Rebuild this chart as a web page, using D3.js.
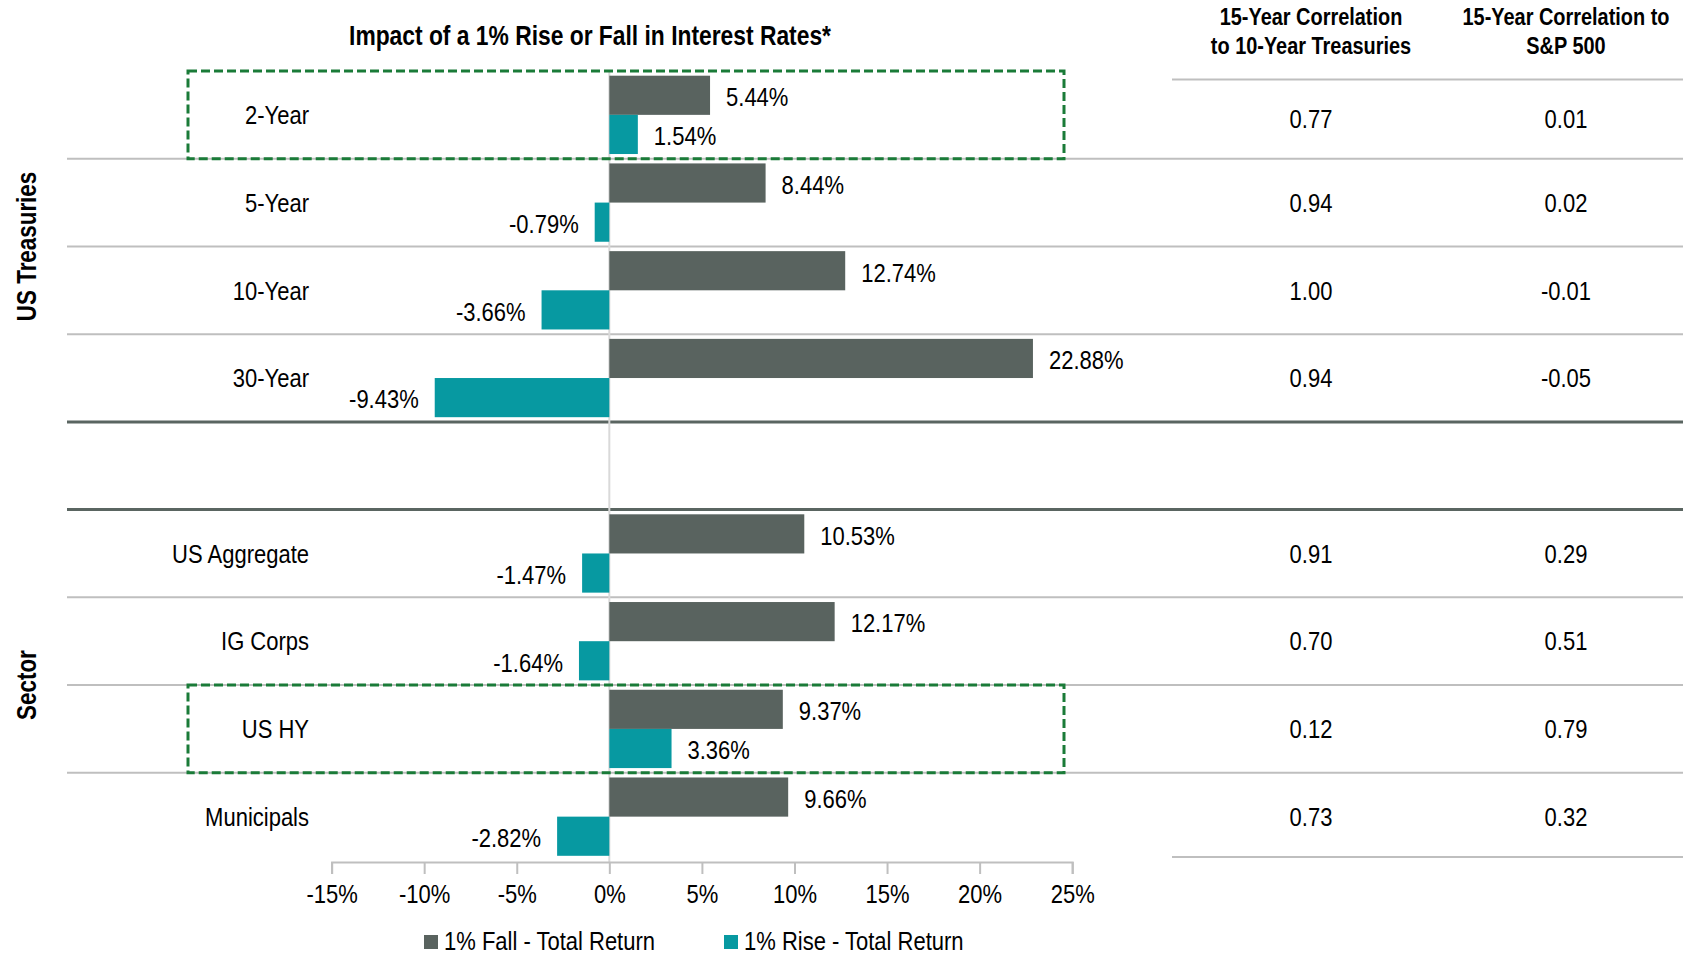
<!DOCTYPE html>
<html>
<head>
<meta charset="utf-8">
<script src="https://cdn.jsdelivr.net/npm/d3@7"></script>
<style>
  body { margin: 0; background: #fff; }
  svg { display: block; }
</style>
</head>
<body>
<div id="chart"></div>
<script>
// --- data ------------------------------------------------------------------
const treasuries = ["2-Year", "5-Year", "10-Year", "30-Year"];
const sectors = ["US Aggregate", "IG Corps", "US HY", "Municipals"];
const categories = [...treasuries, ...sectors];
const fallReturn = [5.44, 8.44, 12.74, 22.88, 10.53, 12.17, 9.37, 9.66];
const riseReturn = [1.54, -0.79, -3.66, -9.43, -1.47, -1.64, 3.36, -2.82];
const corrTreasury = ["0.77", "0.94", "1.00", "0.94", "0.91", "0.70", "0.12", "0.73"];
const corrSP500 = ["0.01", "0.02", "-0.01", "-0.05", "0.29", "0.51", "0.79", "0.32"];
const xTicks = [-15, -10, -5, 0, 5, 10, 15, 20, 25];
const highlighted = ["2-Year", "US HY"];
const seriesNames = ["1% Fall - Total Return", "1% Rise - Total Return"];

// --- layout ----------------------------------------------------------------
const W = 1683, H = 957;
// no Arial Narrow available: squeeze Liberation Sans (Arial metrics) horizontally
const FONT = "'Liberation Sans', Arial, sans-serif";
const NARROW = 0.83;
const FS = "26.5px";
const COL = { fall: "#59635f", rise: "#0799a1", grid: "#bfbfbf", dark: "#5a6561", box: "#1a7b38" };
const yTop = 71, yBottom = 860.5, axisY = 862, headerLineY = 79.5;
const lineLeft = 67, labelRight = 309, tableLeft = 1172;
const boxLeft = 188, boxRight = 1064;
const col1X = 1311, col2X = 1566;

// move x/y into a transform so the text can be squeezed around its anchor
function narrow(sel, extra = "") {
    sel.each(function () {
        const t = d3.select(this);
        const tx = +t.attr("x") || 0, ty = +t.attr("y") || 0;
        t.attr("x", null).attr("y", null)
            .attr("transform", `translate(${tx},${ty})${extra} scale(${NARROW},1)`);
    });
    return sel;
}

const svg = d3.select("#chart").append("svg")
    .attr("width", W).attr("height", H)
    .style("font-family", FONT);

// rows: treasuries, a blank spacer, then sectors
const rowKeys = [...treasuries, "__gap", ...sectors];
const y = d3.scaleBand().domain(rowKeys).range([yTop, yBottom]);
const ySub = d3.scaleBand().domain(["fall", "rise"])
    .range([0, y.bandwidth()]).paddingOuter(0.12);
const x = d3.scaleLinear().domain([-15, 25]).range([331.6, 1072.2]);

const rows = categories.map((c, i) => ({
    name: c, fall: fallReturn[i], rise: riseReturn[i],
    c1: corrTreasury[i], c2: corrSP500[i]
}));

// title + table headers
svg.append("text")
    .attr("x", 590).attr("y", 35).attr("dy", "0.35em")
    .attr("text-anchor", "middle")
    .style("font-size", "27.5px").style("font-weight", "bold")
    .text("Impact of a 1% Rise or Fall in Interest Rates*")
    .call(narrow);

const headers = [
    { x: col1X, lines: ["15-Year Correlation", "to 10-Year Treasuries"] },
    { x: col2X, lines: ["15-Year Correlation to", "S&P 500"] }
];
headers.forEach(h => {
    h.lines.forEach((ln, k) => {
        svg.append("text")
            .attr("x", h.x).attr("y", 17 + k * 29).attr("dy", "0.35em")
            .attr("text-anchor", "middle")
            .style("font-size", "24px").style("font-weight", "bold")
            .text(ln)
            .call(narrow);
    });
});

// separators
const grid = svg.append("g");
grid.append("line")
    .attr("x1", tableLeft).attr("x2", W)
    .attr("y1", headerLineY).attr("y2", headerLineY)
    .attr("stroke", COL.grid).attr("stroke-width", 2);
[...treasuries.slice(1), ...sectors.slice(1)].forEach(k => {
    grid.append("line")
        .attr("x1", lineLeft).attr("x2", W)
        .attr("y1", y(k)).attr("y2", y(k))
        .attr("stroke", COL.grid).attr("stroke-width", 2);
});
["__gap", sectors[0]].forEach(k => {
    grid.append("line")
        .attr("x1", lineLeft).attr("x2", W)
        .attr("y1", y(k)).attr("y2", y(k))
        .attr("stroke", COL.dark).attr("stroke-width", 3);
});
grid.append("line")
    .attr("x1", tableLeft).attr("x2", W)
    .attr("y1", yBottom - 3.5).attr("y2", yBottom - 3.5)
    .attr("stroke", COL.grid).attr("stroke-width", 2);

// zero line
svg.append("line")
    .attr("x1", x(0)).attr("x2", x(0))
    .attr("y1", yTop).attr("y2", axisY)
    .attr("stroke", "#d9d9d9").attr("stroke-width", 2);

// bars
const rowG = svg.append("g").selectAll("g").data(rows).join("g")
    .attr("transform", d => `translate(0,${y(d.name)})`);

["fall", "rise"].forEach(s => {
    rowG.append("rect")
        .attr("x", d => x(Math.min(0, d[s])))
        .attr("y", ySub(s))
        .attr("width", d => Math.abs(x(d[s]) - x(0)))
        .attr("height", ySub.bandwidth())
        .attr("fill", COL[s]);
    rowG.append("text")
        .attr("x", d => d[s] >= 0 ? x(d[s]) + 16 : x(d[s]) - 16)
        .attr("y", ySub(s) + ySub.bandwidth() / 2 + 1.5)
        .attr("dy", "0.35em")
        .attr("text-anchor", d => d[s] >= 0 ? "start" : "end")
        .style("font-size", FS)
        .text(d => d[s].toFixed(2) + "%")
        .call(narrow);
});

// category labels
rowG.append("text")
    .attr("x", labelRight).attr("y", y.bandwidth() / 2).attr("dy", "0.35em")
    .attr("text-anchor", "end")
    .style("font-size", FS)
    .text(d => d.name)
    .call(narrow);

// table values, centred in the visible table row (first row sits under the header rule)
[["c1", col1X], ["c2", col2X]].forEach(([k, cx]) => {
    rowG.append("text")
        .attr("x", cx)
        .attr("y", d => (Math.max(y(d.name), headerLineY) + y(d.name) + y.bandwidth()) / 2 - y(d.name))
        .attr("dy", "0.35em")
        .attr("text-anchor", "middle").style("font-size", FS)
        .text(d => d[k])
        .call(narrow);
});

// highlight boxes
highlighted.forEach(k => {
    svg.append("rect")
        .attr("x", boxLeft).attr("y", y(k))
        .attr("width", boxRight - boxLeft).attr("height", y.bandwidth())
        .attr("fill", "none").attr("stroke", COL.box)
        .attr("stroke-width", 3).attr("stroke-dasharray", "9,4");
});

// group labels
[[treasuries, "US Treasuries"], [sectors, "Sector"]].forEach(([grp, label]) => {
    const cy = (y(grp[0]) + y(grp[grp.length - 1]) + y.bandwidth()) / 2;
    svg.append("text")
        .attr("x", 27).attr("y", cy)
        .attr("dy", "0.35em").attr("text-anchor", "middle")
        .style("font-size", "27px").style("font-weight", "bold")
        .text(label)
        .call(narrow, " rotate(-90)");
});

// x axis
const axis = svg.append("g").attr("transform", `translate(0,${axisY})`)
    .call(d3.axisBottom(x).tickValues(xTicks).tickSize(12)
        .tickFormat(d => d + "%").tickPadding(10));
axis.select(".domain").attr("stroke", COL.grid).attr("stroke-width", 2);
axis.selectAll(".tick line").attr("stroke", COL.grid).attr("stroke-width", 2);
axis.selectAll(".tick text")
    .attr("fill", "#000").style("font-size", FS).style("font-family", FONT)
    .call(narrow);

// legend
const legend = svg.append("g").attr("transform", "translate(0,941)");
const legendX = [424, 724];
seriesNames.forEach((name, i) => {
    const g = legend.append("g").attr("transform", `translate(${legendX[i]},0)`);
    g.append("rect").attr("x", 0).attr("y", -6).attr("width", 14).attr("height", 14)
        .attr("fill", i === 0 ? COL.fall : COL.rise);
    g.append("text").attr("x", 20).attr("dy", "0.35em")
        .style("font-size", FS).text(name)
        .call(narrow);
});
</script>
</body>
</html>
